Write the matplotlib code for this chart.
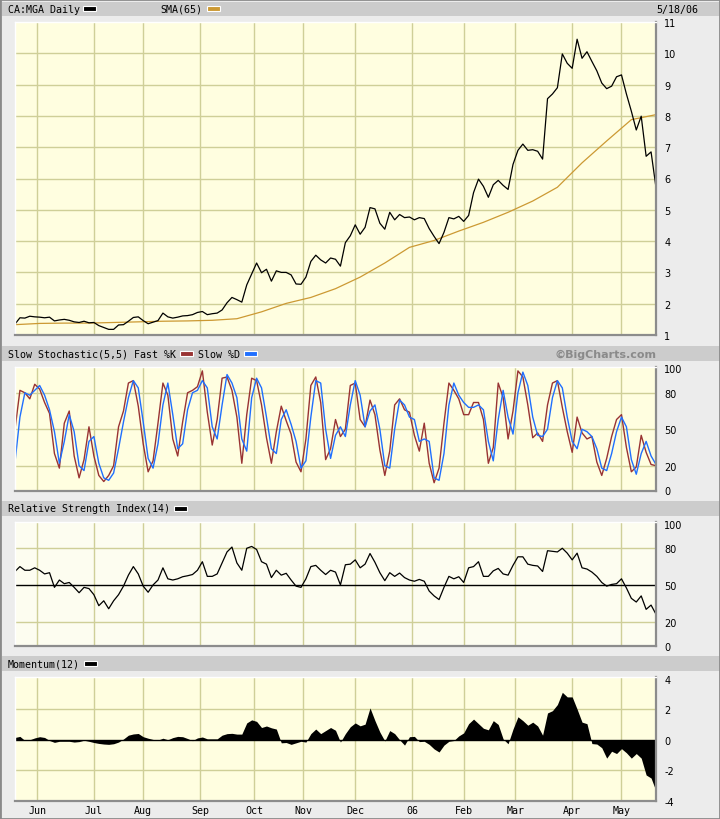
import matplotlib
matplotlib.use("Agg")
import matplotlib.pyplot as plt
from matplotlib.patches import Rectangle
import numpy as np

plt.rcParams["axes.unicode_minus"] = False

# trading-day index of the first session of each month, and the axis labels
month_start_day = [9, 32, 52, 75, 97, 117, 138, 161, 182, 203, 226, 246]
month_labels = ["Jun", "Jul", "Aug", "Sep", "Oct", "Nov", "Dec", "06", "Feb", "Mar", "Apr", "May"]

# values read every 2nd trading day (day 0 .. 260)
price = [
    1.35, 1.55, 1.54, 1.60, 1.58, 1.57, 1.55, 1.57, 1.45, 1.48,
    1.50, 1.47, 1.42, 1.40, 1.44, 1.39, 1.40, 1.30, 1.24, 1.18,
    1.18, 1.32, 1.33, 1.44, 1.56, 1.58, 1.46, 1.36, 1.41, 1.46,
    1.70, 1.58, 1.54, 1.57, 1.61, 1.62, 1.65, 1.72, 1.75, 1.65,
    1.68, 1.70, 1.80, 2.03, 2.20, 2.13, 2.05, 2.60, 2.95, 3.30,
    2.99, 3.10, 2.72, 3.05, 3.00, 3.00, 2.92, 2.63, 2.62, 2.85,
    3.35, 3.55, 3.40, 3.30, 3.46, 3.42, 3.20, 3.95, 4.17, 4.52,
    4.22, 4.44, 5.07, 5.03, 4.57, 4.38, 4.92, 4.68, 4.85, 4.75,
    4.77, 4.68, 4.75, 4.72, 4.40, 4.15, 3.92, 4.28, 4.75, 4.71,
    4.79, 4.63, 4.82, 5.55, 5.98, 5.75, 5.40, 5.80, 5.94, 5.78,
    5.65, 6.45, 6.90, 7.10, 6.90, 6.92, 6.87, 6.62, 8.55, 8.70,
    8.90, 9.98, 9.68, 9.52, 10.45, 9.84, 10.05, 9.74, 9.44, 9.05,
    8.87, 8.95, 9.25, 9.31, 8.70, 8.15, 7.55, 7.99, 6.71, 6.85,
    5.71,
]

# SMA(65) read every 10th trading day
sma65 = [1.33, 1.37, 1.38, 1.38, 1.40, 1.42, 1.44, 1.45, 1.47, 1.52,
         1.74, 2.01, 2.20, 2.48, 2.85, 3.30, 3.80, 4.02, 4.32, 4.60,
         4.92, 5.28, 5.72, 6.50, 7.20, 7.88, 8.04]

fast_k = [
    50, 82, 80, 75, 87, 83, 72, 63, 30, 18,
    55, 65, 28, 10, 25, 52, 28, 12, 7, 12,
    20, 52, 65, 88, 90, 69, 38, 15, 24, 55,
    88, 78, 42, 28, 56, 80, 82, 85, 98, 64,
    37, 58, 92, 93, 82, 60, 22, 62, 92, 90,
    70, 43, 22, 48, 69, 57, 46, 23, 15, 42,
    86, 93, 72, 25, 34, 58, 44, 50, 86, 88,
    58, 52, 74, 62, 33, 12, 32, 70, 75, 66,
    64, 45, 32, 55, 22, 6, 18, 55, 88, 82,
    75, 62, 62, 72, 72, 58, 22, 35, 88, 76,
    42, 65, 98, 93, 70, 43, 47, 40, 70, 88,
    90, 68, 48, 31, 60, 47, 42, 44, 23, 12,
    26, 44, 58, 62, 35, 15, 19, 45, 31, 21,
    20,
]

slow_d = [
    23, 60, 80, 78, 82, 86, 78, 66, 48, 22,
    40, 62, 48, 20, 16, 40, 44, 22, 10, 8,
    14, 34, 56, 76, 90, 84, 56, 26, 18, 38,
    70, 88, 62, 34, 38, 66, 80, 82, 90, 84,
    52, 42, 70, 95, 88, 76, 42, 32, 76, 92,
    84, 60, 34, 30, 58, 66, 54, 40, 18, 24,
    60, 90, 88, 50, 26, 45, 52, 44, 70, 90,
    78, 52, 65, 70, 50, 20, 18, 50, 74, 70,
    60, 58, 40, 42, 40, 10, 8, 30, 70, 88,
    78, 72, 68, 68, 70, 66, 40, 24, 58, 82,
    60, 46, 80, 97, 86, 60, 45, 44, 50, 76,
    90, 84, 60, 40, 34, 50, 48, 44, 34, 18,
    16, 30, 48, 60, 52, 25, 13, 30, 40, 28,
    21,
]

rsi14 = [
    61, 65, 62, 62, 64, 62, 59, 60, 48, 54,
    51, 52, 48, 43.6, 48, 47, 42, 33, 37, 30.5,
    37, 42, 49, 58, 65, 59, 49, 44, 50, 54,
    64, 55, 54, 55, 56.7, 57.5, 58.5, 62, 69, 57,
    57, 59, 68, 77, 81, 68, 62, 80, 81.5, 79,
    69, 67, 56, 62, 58, 59.5, 54, 49, 48, 55,
    65, 66, 62, 58.5, 62, 60.5, 50, 66.5, 67, 70.5,
    64, 67, 75.7, 68.5, 60, 53.5, 60, 57, 59.7, 56,
    54, 53, 54.5, 53, 45, 41, 38, 48, 57, 55,
    56.7, 52, 64, 65, 69, 57, 57, 61.5, 63.5, 59,
    58, 66, 73, 73, 67, 66, 65.5, 61, 78, 77.5,
    77, 80, 76, 70.5, 76, 64, 63, 60.5, 57, 52,
    49, 50.4, 51, 55, 47.5, 39, 36, 41, 30, 33.5,
    26,
]

momentum12 = [
    0.15, 0.22, -0.05, 0.0, 0.12, 0.2, 0.15, -0.05, -0.17, -0.1,
    -0.1, -0.1, -0.15, -0.12, -0.03, -0.1, -0.18, -0.24, -0.28, -0.3,
    -0.26, -0.15, 0.05, 0.3, 0.38, 0.41, 0.2, 0.1, 0.02, -0.02,
    0.1, 0.0, 0.14, 0.22, 0.2, 0.08, -0.06, 0.12, 0.18, 0.06,
    0.06, 0.06, 0.3, 0.4, 0.42, 0.37, 0.37, 1.1, 1.3, 1.2,
    0.8, 0.9, 0.78, 0.7, -0.2, -0.18, -0.3, -0.2, -0.1, -0.15,
    0.4, 0.7, 0.4, 0.6, 0.8, 0.62, -0.15, 0.4, 0.85, 1.1,
    0.91, 1.02, 2.08, 1.25, 0.5, -0.08, 0.6, 0.4, 0.0, -0.35,
    0.2, 0.22, -0.12, -0.1, -0.3, -0.6, -0.8, -0.35, -0.1, -0.05,
    0.25, 0.45, 1.05, 1.35, 1.05, 0.75, 0.65, 1.25, 1.0, 0.05,
    -0.26, 0.7, 1.5, 1.25, 0.95, 1.15, 0.9, 0.3, 1.75, 1.9,
    2.3, 3.1, 2.8, 2.8, 2.0, 1.15, 1.05, -0.25, -0.28, -0.52,
    -1.2, -0.75, -0.9, -0.58, -0.85, -1.2, -0.9, -1.2, -2.3, -2.5,
    -3.35,
]

days = np.arange(len(price)) * 2
sma_days = np.arange(len(sma65)) * 10
last_day = days[-1]

W, H = 720, 820
BG = "#fffee0"
GRID = "#cfcf98"
BAR = "#cccccc"
MONO = "DejaVu Sans Mono"

fig = plt.figure(figsize=(W / 100, H / 100), dpi=100, facecolor="#ececec")


def fx(x):
    return x / W


def fy(y):
    return 1 - y / H


def header(y0, y1):
    fig.add_artist(Rectangle((fx(2), fy(y1)), fx(718), (y1 - y0) / H,
                             transform=fig.transFigure, facecolor=BAR,
                             edgecolor="none", zorder=0))


def swatch(x, yc, color):
    fig.add_artist(Rectangle((fx(x), fy(yc + 2.5)), 13 / W, 5 / H,
                             transform=fig.transFigure, facecolor=color,
                             edgecolor="white", linewidth=0.8))


def label(x, yc, s, ha="left"):
    fig.text(fx(x), fy(yc), s, family=MONO, fontsize=7.2, va="center", ha=ha)


def panel(y0, y1, ylim, yticks, hgrid, bg=BG):
    ax = fig.add_axes([fx(15), fy(y1), (656 - 15) / W, (y1 - y0) / H], facecolor=bg)
    ax.set_xlim(0, last_day)
    ax.set_ylim(*ylim)
    for d in month_start_day:
        ax.axvline(d, color=GRID, lw=1, zorder=0)
    for v in hgrid:
        ax.axhline(v, color=GRID, lw=1, zorder=0)
    ax.set_xticks([])
    ax.yaxis.tick_right()
    ax.set_yticks(yticks)
    ax.set_yticklabels([str(t) for t in yticks])
    ax.tick_params(axis="y", length=0, pad=6, labelsize=7)
    for side in ("left", "top"):
        ax.spines[side].set_color("white")
        ax.spines[side].set_linewidth(1)
    for side in ("right", "bottom"):
        ax.spines[side].set_color("#8c8c8c")
        ax.spines[side].set_linewidth(1.6)
    return ax


# header bars
header(3, 17)
header(347, 362)
header(502, 517)
header(657, 672)

label(8, 10, "CA:MGA Daily")
swatch(83, 9, "black")
label(160, 10, "SMA(65)")
swatch(207, 9, "#cc9933")
label(698, 10, "5/18/06", ha="right")

label(8, 354.5, "Slow Stochastic(5,5) Fast %K")
swatch(180, 354.5, "#993333")
label(198, 354.5, "Slow %D")
swatch(244, 354.5, "#1f6fff")
fig.text(fx(656), fy(354.5), "\u00a9BigCharts.com", ha="right", va="center",
         fontsize=8, fontweight="bold", color="#8a8a8a")

label(8, 509.5, "Relative Strength Index(14)")
swatch(174, 509.5, "black")

label(8, 664.5, "Momentum(12)")
swatch(84, 664.5, "black")

# price panel
ax1 = panel(23, 336, (1, 11), list(range(1, 12)), list(range(2, 11)))
ax1.plot(sma_days, sma65, color="#cc9933", lw=0.9)
ax1.plot(days, price, color="black", lw=0.9)

# slow stochastic
ax2 = panel(368, 492, (-0.8, 101.2), [0, 20, 50, 80, 100], [20, 50, 80])
ax2.plot(days, fast_k, color="#993333", lw=1)
ax2.plot(days, slow_d, color="#1f6fff", lw=1)

# RSI
ax3 = panel(523, 647, (0, 101.5), [0, 20, 50, 80, 100], [20, 80], bg="#fdfdf0")
ax3.axhline(50, color="black", lw=1)
ax3.plot(days, rsi14, color="black", lw=0.9)

# momentum
ax4 = panel(678, 802, (-4, 4.1), [-4, -2, 0, 2, 4], [-2, 2])
ax4.fill_between(days, momentum12, 0, color="black", lw=0)
ax4.axhline(0, color="black", lw=1)
ax4.set_xticks(month_start_day)
ax4.set_xticklabels(month_labels, family=MONO, fontsize=7.2)
ax4.tick_params(axis="x", length=0, pad=3)

# outer frame
fig.add_artist(Rectangle((0, 0), 1, 1, transform=fig.transFigure, fill=False,
                         edgecolor="#8a8a8a", linewidth=2))

fig.savefig("out.png", dpi=100, facecolor=fig.get_facecolor())
